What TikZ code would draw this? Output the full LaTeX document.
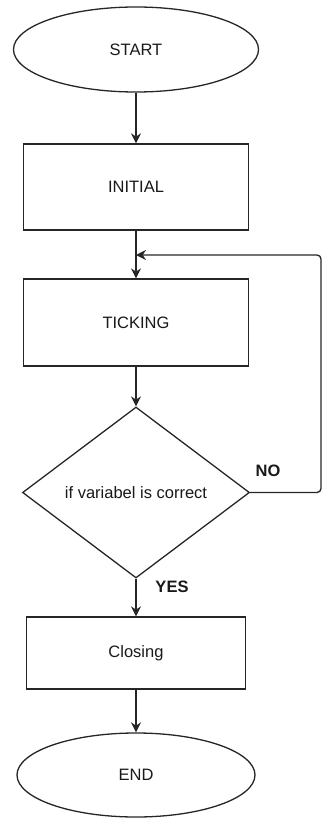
\documentclass[tikz,border=0pt]{standalone}
\usepackage{fontspec}
\setmainfont{Liberation Sans}
\usetikzlibrary{shapes.geometric,arrows.meta}
\begin{document}
\begin{tikzpicture}[x=1pt,y=-1pt,
  every node/.style={font=\fontsize{16.5}{20}\selectfont, text=black!90},
  shapeline/.style={draw=black!85, line width=1.3pt, fill=white, inner sep=0pt},
  box/.style={shapeline, rectangle, minimum width=225pt, minimum height=86pt},
  term/.style={shapeline, ellipse, minimum width=245pt, minimum height=85pt},
  decision/.style={shapeline, diamond, minimum width=227pt, minimum height=171pt},
  flow/.style={draw=black!85, line width=1.3pt, -{Stealth[length=10pt,width=10pt]}},
  lab/.style={font=\bfseries\fontsize{16.5}{20}\selectfont}
]
\useasboundingbox (0,0) rectangle (321,818);

\node[term] (start) at (136,49.5) {START};
\node[box] (init) at (136,187) {INITIAL};
\node[box, minimum height=87pt] (tick) at (136,322.5) {TICKING};
\node[decision] (dec) at (136,492.5) {};
\node (dectext) at (136,492.5) {if variabel is correct};
\node[box, minimum width=219pt, minimum height=72pt] (close) at (136,653) {Closing};
\node[term, minimum width=238pt, minimum height=84pt] (end) at (136,775) {END};

\coordinate (join) at (136,255);
\coordinate (rb) at (321,492.5);
\coordinate (rt) at (321,255);

\draw[flow] (start.south) -- (init.north);
\draw[flow] (init.south) -- (tick.north);
\draw[flow] (tick.south) -- (dec.north);
\draw[flow] (dec.south) -- (close.north);
\draw[flow] (close.south) -- (end.north);
\draw[flow, rounded corners=4pt] (dec.east) -- (rb) -- (rt) -- (join);

\node[lab] (no) at (268,471) {NO};
\node[lab] (yes) at (172,587) {YES};
\end{tikzpicture}
\end{document}
